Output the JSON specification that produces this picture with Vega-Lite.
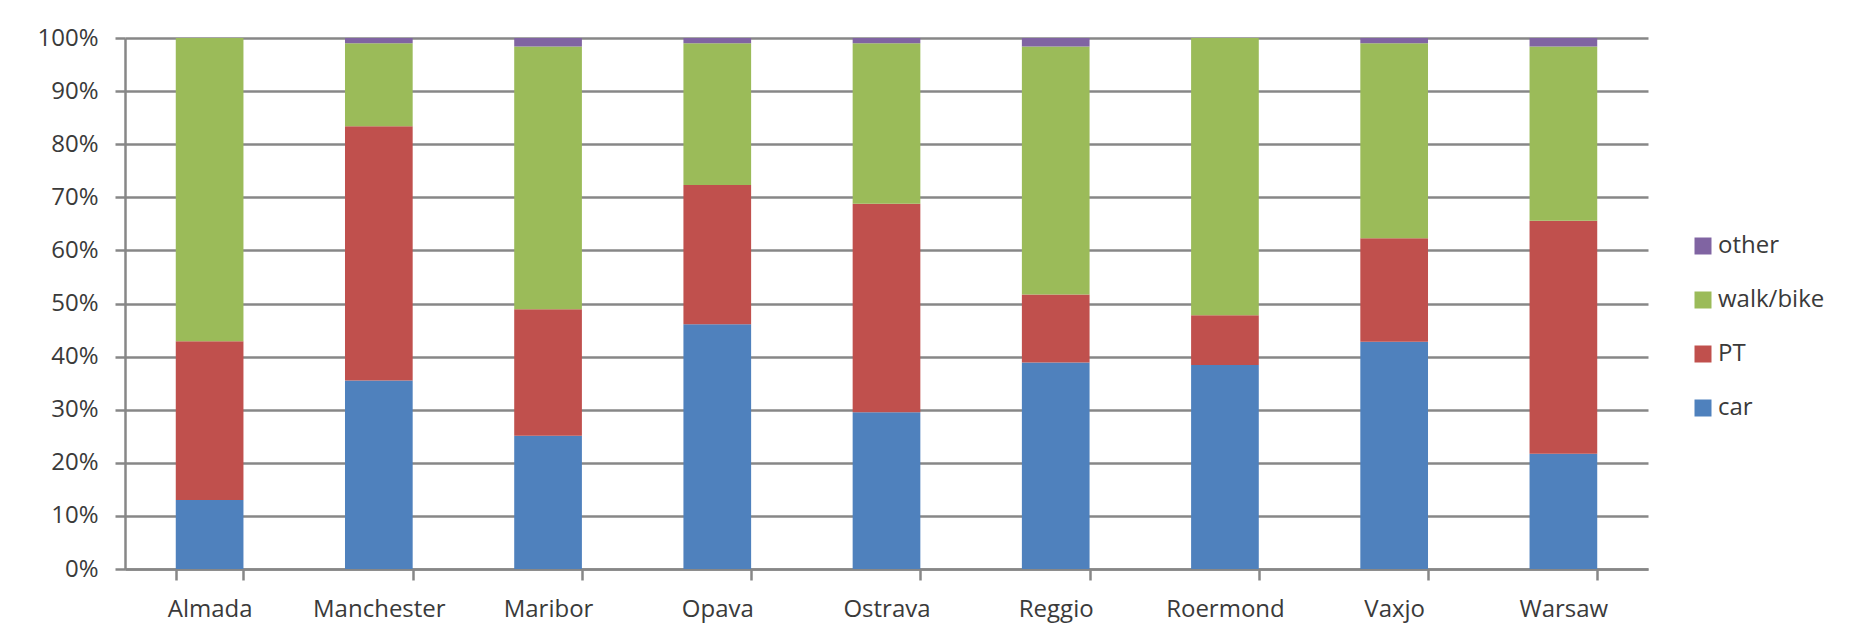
{
  "$schema": "https://vega.github.io/schema/vega-lite/v6.json",
  "width": 1523,
  "height": 531,
  "autosize": {"type": "none"},
  "padding": {"left": 125, "top": 38, "right": 206, "bottom": 71},
  "background": "#ffffff",
  "data": {
    "values": [
      {"city": "Almada", "mode": "car", "rank": 1, "share": 13.0},
      {"city": "Almada", "mode": "PT", "rank": 2, "share": 29.9},
      {"city": "Almada", "mode": "walk/bike", "rank": 3, "share": 57.1},
      {"city": "Manchester", "mode": "car", "rank": 1, "share": 35.5},
      {"city": "Manchester", "mode": "PT", "rank": 2, "share": 47.9},
      {"city": "Manchester", "mode": "walk/bike", "rank": 3, "share": 15.6},
      {"city": "Manchester", "mode": "other", "rank": 4, "share": 1.0},
      {"city": "Maribor", "mode": "car", "rank": 1, "share": 25.1},
      {"city": "Maribor", "mode": "PT", "rank": 2, "share": 23.8},
      {"city": "Maribor", "mode": "walk/bike", "rank": 3, "share": 49.5},
      {"city": "Maribor", "mode": "other", "rank": 4, "share": 1.6},
      {"city": "Opava", "mode": "car", "rank": 1, "share": 46.1},
      {"city": "Opava", "mode": "PT", "rank": 2, "share": 26.2},
      {"city": "Opava", "mode": "walk/bike", "rank": 3, "share": 26.7},
      {"city": "Opava", "mode": "other", "rank": 4, "share": 1.0},
      {"city": "Ostrava", "mode": "car", "rank": 1, "share": 29.5},
      {"city": "Ostrava", "mode": "PT", "rank": 2, "share": 39.3},
      {"city": "Ostrava", "mode": "walk/bike", "rank": 3, "share": 30.2},
      {"city": "Ostrava", "mode": "other", "rank": 4, "share": 1.0},
      {"city": "Reggio", "mode": "car", "rank": 1, "share": 38.9},
      {"city": "Reggio", "mode": "PT", "rank": 2, "share": 12.8},
      {"city": "Reggio", "mode": "walk/bike", "rank": 3, "share": 46.7},
      {"city": "Reggio", "mode": "other", "rank": 4, "share": 1.6},
      {"city": "Roermond", "mode": "car", "rank": 1, "share": 38.4},
      {"city": "Roermond", "mode": "PT", "rank": 2, "share": 9.4},
      {"city": "Roermond", "mode": "walk/bike", "rank": 3, "share": 52.2},
      {"city": "Vaxjo", "mode": "car", "rank": 1, "share": 42.8},
      {"city": "Vaxjo", "mode": "PT", "rank": 2, "share": 19.5},
      {"city": "Vaxjo", "mode": "walk/bike", "rank": 3, "share": 36.7},
      {"city": "Vaxjo", "mode": "other", "rank": 4, "share": 1.0},
      {"city": "Warsaw", "mode": "car", "rank": 1, "share": 21.7},
      {"city": "Warsaw", "mode": "PT", "rank": 2, "share": 43.9},
      {"city": "Warsaw", "mode": "walk/bike", "rank": 3, "share": 32.8},
      {"city": "Warsaw", "mode": "other", "rank": 4, "share": 1.6}
    ]
  },
  "mark": {"type": "bar"},
  "encoding": {
    "x": {
      "field": "city",
      "type": "nominal",
      "sort": null,
      "scale": {"paddingInner": 0.6, "paddingOuter": 0.3},
      "axis": {
        "title": null,
        "labelAngle": 0,
        "tickBand": "extent",
        "tickSize": 11,
        "labelPadding": 17,
        "grid": false
      }
    },
    "y": {
      "field": "share",
      "type": "quantitative",
      "stack": "zero",
      "scale": {"domain": [0, 100], "nice": false},
      "axis": {
        "title": null,
        "values": [0, 10, 20, 30, 40, 50, 60, 70, 80, 90, 100],
        "labelExpr": "datum.value + '%'",
        "tickSize": 10,
        "labelPadding": 17,
        "grid": true
      }
    },
    "color": {
      "field": "mode",
      "type": "nominal",
      "scale": {
        "domain": ["other", "walk/bike", "PT", "car"],
        "range": ["#8064A2", "#9BBB59", "#C0504D", "#4F81BD"]
      },
      "legend": {
        "title": null,
        "orient": "none",
        "legendX": 1566,
        "legendY": 196,
        "symbolType": "square",
        "symbolSize": 289,
        "symbolStrokeWidth": 0,
        "symbolOpacity": 1,
        "rowPadding": 30,
        "labelOffset": 3
      }
    },
    "order": {"field": "rank", "type": "quantitative"}
  },
  "config": {
    "font": "Open Sans",
    "view": {"stroke": null},
    "axis": {
      "domainColor": "#878787",
      "domainWidth": 2.5,
      "tickColor": "#878787",
      "tickWidth": 2.5,
      "gridColor": "#878787",
      "gridWidth": 2.5,
      "labelFont": "Open Sans",
      "labelFontSize": 24,
      "labelColor": "#3a3a3a"
    },
    "legend": {
      "labelFont": "Open Sans",
      "labelFontSize": 24,
      "labelColor": "#3a3a3a"
    }
  }
}
